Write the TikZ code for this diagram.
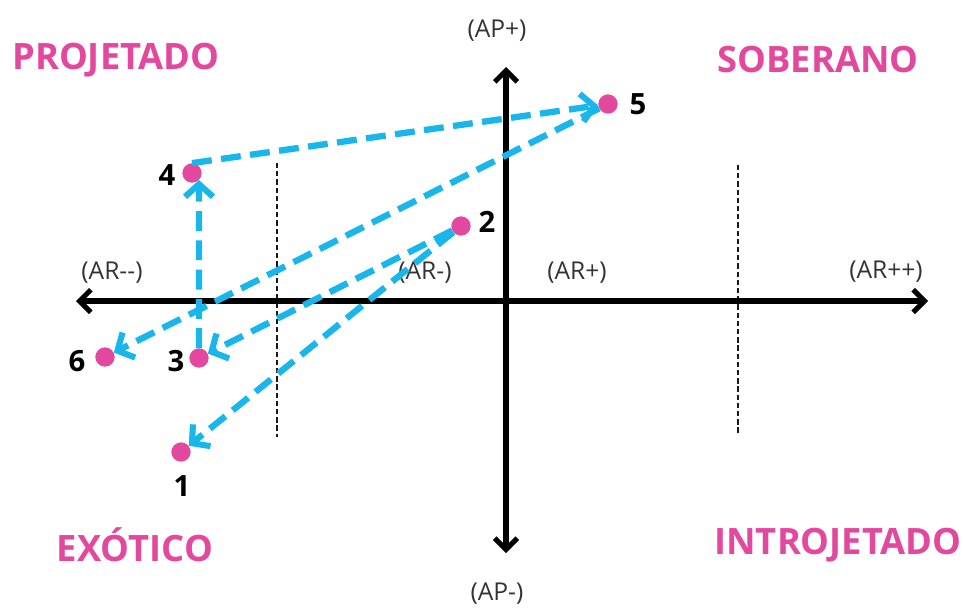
\documentclass[tikz,border=0pt]{standalone}
\usepackage{fontspec}
\setmainfont{Open Sans}
\usetikzlibrary{arrows.meta}
\definecolor{pinkw}{RGB}{226,72,158}
\definecolor{flowblue}{RGB}{25,182,236}
\tikzset{
  axis/.style={line width=4.3pt, black, {Straight Barb[length=3.4mm,width=6.8mm,line width=4.3pt]}-{Straight Barb[length=3.4mm,width=6.8mm,line width=4.3pt]}},
  guide/.style={line width=2.1pt, black!90, dash pattern=on 4.5pt off 2.5pt},
  flow/.style={line width=5.4pt, flowblue, dash pattern=on 17pt off 8pt, -{Straight Barb[length=3.8mm,width=8.4mm,line width=5.2pt]}},
  dot/.style={circle, fill=pinkw, minimum size=5.8mm, inner sep=0pt},
  quad/.style={text=pinkw, font=\bfseries\fontsize{31}{34}\selectfont},
  axlab/.style={text=black!80, font=\fontsize{21}{24}\selectfont},
  num/.style={font=\bfseries\fontsize{25}{28}\selectfont}
}
\begin{document}
\begin{tikzpicture}[x=0.03cm,y=-0.03cm]
\useasboundingbox (0,0) rectangle (964,608);
% quadrant names
\node[quad] (qp) at (116,60) {PROJETADO};
\node[quad] (qs) at (818,60) {SOBERANO};
\node[quad] (qe) at (135,545) {EXÓTICO};
\node[quad] (qi) at (838,545) {INTROJETADO};
% axis labels
\node[axlab] (lapp) at (497,31) {(AP+)};
\node[axlab] (lapm) at (497,594) {(AP-)};
\node[axlab] (larmm) at (112,273) {(AR{-}{-})};
\node[axlab] (larm) at (425,273) {(AR-)};
\node[axlab] (larp) at (577,273) {(AR+)};
\node[axlab] (larpp) at (886,272) {(AR++)};
% guides
\coordinate (g1t) at (277,163);
\coordinate (g1b) at (277,437);
\coordinate (g2t) at (738,165);
\coordinate (g2b) at (738,435);
\draw[guide] (g1t) -- (g1b);
\draw[guide] (g2t) -- (g2b);
% axes
\coordinate (axL) at (76,301);
\coordinate (axR) at (928,301);
\coordinate (axT) at (506,67);
\coordinate (axB) at (506,553);
\draw[axis] (axL) -- (axR);
\draw[axis] (axB) -- (axT);
% points
\node[dot] (p1) at (181,452) {};
\node[dot] (p2) at (461,226) {};
\node[dot] (p3) at (199,358) {};
\node[dot] (p4) at (192,173) {};
\node[dot] (p5) at (608,104) {};
\node[dot] (p6) at (105,357) {};
\node[num] (n1) at (182,486) {1};
\node[num] (n2) at (487,222) {2};
\node[num] (n3) at (176,361) {3};
\node[num] (n4) at (167,175) {4};
\node[num] (n5) at (638,104) {5};
\node[num] (n6) at (77,361) {6};
% flows
\draw[flow] (p2) -- (p1);
\draw[flow] (p2) -- (p3);
\draw[flow] (p3.north) -- (p4.south east);
\draw[flow] (p4.north) -- (p5);
\draw[flow] (p5) -- (p6);
\end{tikzpicture}
\end{document}
